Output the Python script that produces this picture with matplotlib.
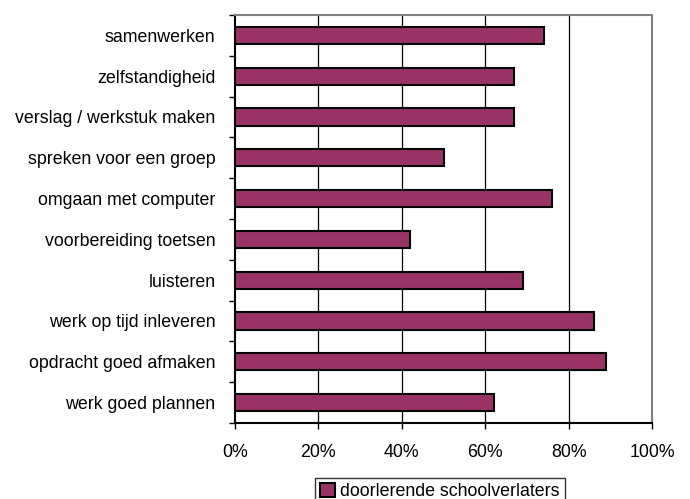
import matplotlib
matplotlib.use("Agg")
import matplotlib.pyplot as plt
from matplotlib.ticker import FixedLocator, PercentFormatter

# data (bovenste categorie eerst)
categories = [
    "samenwerken",
    "zelfstandigheid",
    "verslag / werkstuk maken",
    "spreken voor een groep",
    "omgaan met computer",
    "voorbereiding toetsen",
    "luisteren",
    "werk op tijd inleveren",
    "opdracht goed afmaken",
    "werk goed plannen",
]
values = [74, 67, 67, 50, 76, 42, 69, 86, 89, 62]
series_name = "doorlerende schoolverlaters"
x_ticks = [0, 20, 40, 60, 80, 100]

plt.rcParams["font.family"] = ["Liberation Sans", "DejaVu Sans"]
plt.rcParams["font.size"] = 12.8

fig = plt.figure(figsize=(6.9, 4.99), dpi=100)
ax = fig.add_axes([235 / 690, 1 - 423 / 499, 417 / 690, 408 / 499])

n = len(categories)
ypos = list(range(n - 1, -1, -1))
bars = ax.barh(ypos, values, height=0.42, color="#993366",
               edgecolor="black", linewidth=1.5, label=series_name, zorder=3)

ax.set_xlim(0, 100)
ax.set_ylim(-0.5, n - 0.5)
ax.set_xticks(x_ticks)
ax.xaxis.set_major_formatter(PercentFormatter(decimals=0))
ax.set_yticks(ypos)
ax.set_yticklabels(categories)
ax.yaxis.set_minor_locator(FixedLocator([i - 0.5 for i in range(n + 1)]))

ax.tick_params(axis="y", which="major", length=0, pad=14)
ax.tick_params(axis="y", which="minor", length=4, width=1, direction="out")
ax.tick_params(axis="x", which="major", length=4, width=1, direction="out", pad=11)

for v in x_ticks[1:-1]:
    ax.axvline(v, color="black", linewidth=0.9, zorder=1)

ax.spines["left"].set_color("black")
ax.spines["bottom"].set_color("black")
ax.spines["top"].set_color("#808080")
ax.spines["right"].set_color("#808080")
for s in ax.spines.values():
    s.set_linewidth(1.5)

fig.legend(handles=[bars], labels=[series_name], loc="upper center",
           bbox_to_anchor=(440 / 690, 1 - 478 / 499), borderaxespad=0,
           frameon=True, fancybox=False, edgecolor="black",
           handlelength=0.8, handleheight=0.8, handletextpad=0.3,
           borderpad=0.3, fontsize=12.8)

fig.savefig("out.png", dpi=100)
